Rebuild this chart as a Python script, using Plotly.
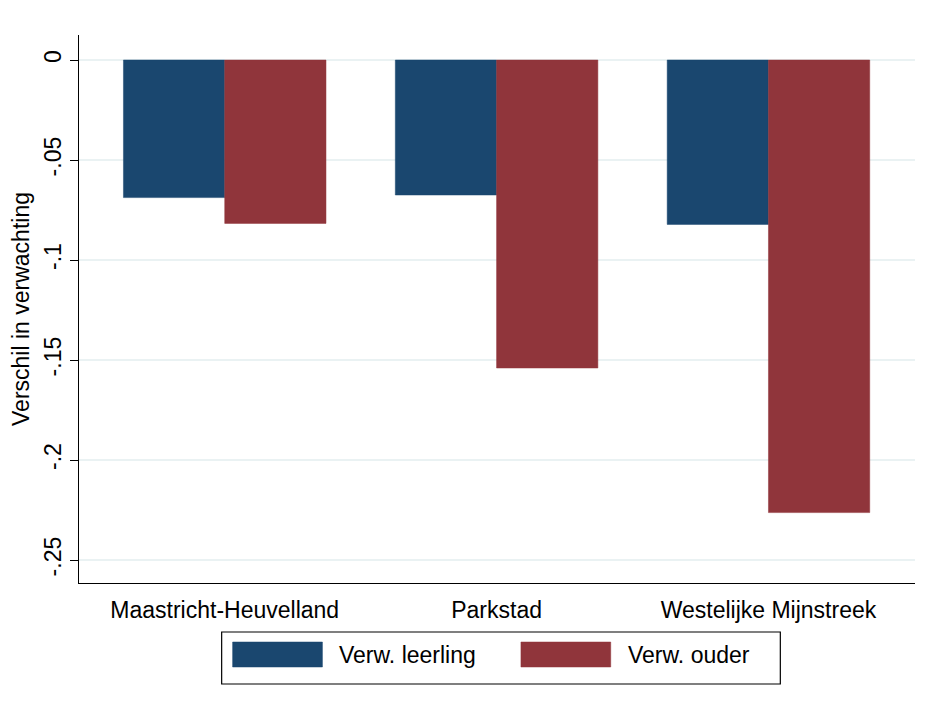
import plotly.graph_objects as go

categories = ["Maastricht-Heuvelland", "Parkstad", "Westelijke Mijnstreek"]
verw_leerling = [-0.0688, -0.0675, -0.0822]
verw_ouder = [-0.0817, -0.1540, -0.2263]
series_names = ["Verw. leerling", "Verw. ouder"]
series_colors = ["#1a476f", "#90353b"]
ytick_vals = [0, -0.05, -0.1, -0.15, -0.2, -0.25]
ytick_text = ["0", "-.05", "-.1", "-.15", "-.2", "-.25"]

# page is rendered with an 8px body margin
OFF = 8
W, H = 920, 696
PLOT_L, PLOT_R, PLOT_T, PLOT_B = 77, 915, 35, 583  # page pixel coords of plot area
L, T = PLOT_L - OFF, PLOT_T - OFF
R = W + OFF - PLOT_R
B = H + OFF - PLOT_B
PW, PH = PLOT_R - PLOT_L, PLOT_B - PLOT_T

def px(x):
    return (x - PLOT_L) / PW

def py(y):
    return (PLOT_B - y) / PH

FONT = "Liberation Sans, Arial, sans-serif"
FS = 23

fig = go.Figure()
for name, vals, col in zip(series_names, [verw_leerling, verw_ouder], series_colors):
    fig.add_trace(go.Bar(
        x=list(range(len(categories))), y=vals, name=name,
        marker=dict(color=col, line=dict(color=col, width=0.5)),
        showlegend=False,
    ))

fig.update_layout(
    width=W, height=H,
    margin=dict(l=L, r=R, t=T, b=B),
    paper_bgcolor="white", plot_bgcolor="white",
    barmode="group", bargap=0.255, bargroupgap=0,
    font=dict(family=FONT, size=FS, color="black"),
    showlegend=False,
)
fig.update_xaxes(
    range=[-0.536, 2.539],
    tickvals=list(range(len(categories))), ticktext=categories,
    showline=True, linecolor="black", linewidth=1.2,
    ticks="outside", ticklen=6, tickcolor="rgba(0,0,0,0)",
    showgrid=False, zeroline=False,
    tickfont=dict(size=FS),
)
fig.update_yaxes(
    range=[-0.2615, 0.0125],
    tickvals=ytick_vals, ticktext=ytick_text,
    tickangle=-90,
    showline=True, linecolor="black", linewidth=1.2,
    ticks="outside", ticklen=8, tickcolor="black", tickwidth=1.2,
    showgrid=True, gridcolor="#eaf2f3", gridwidth=1.5,
    zeroline=False,
    tickfont=dict(size=FS),
    title=dict(text="Verschil in verwachting", font=dict(size=FS), standoff=4),
)

# Legend box (Stata-style) drawn with shapes/annotations
fig.add_shape(type="rect", xref="paper", yref="paper",
              x0=px(220), x1=px(780), y0=py(684), y1=py(632),
              line=dict(color="black", width=1.2), fillcolor="white", layer="above")
sw_x = [231, 520]
txt_x = [336, 625]
for name, col, sx, tx in zip(series_names, series_colors, sw_x, txt_x):
    fig.add_shape(type="rect", xref="paper", yref="paper",
                  x0=px(sx), x1=px(sx + 90), y0=py(667), y1=py(642),
                  line=dict(color=col, width=0.5), fillcolor=col, layer="above")
    fig.add_annotation(xref="paper", yref="paper", x=px(tx), y=py(655),
                       text=name, showarrow=False, xanchor="left", yanchor="middle",
                       font=dict(size=FS, family=FONT, color="black"))

fig.write_html("out.html")
